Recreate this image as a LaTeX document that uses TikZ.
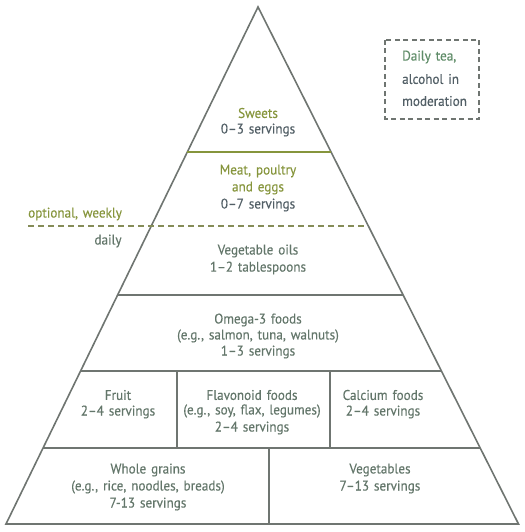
\documentclass[tikz,border=0pt]{standalone}
\usepackage{fontspec}
\setmainfont{PT Sans}[FakeBold=0.35, FakeStretch=0.94, WordSpace=1.4]
\definecolor{olive}{HTML}{86953C}
\definecolor{slate}{HTML}{525F66}
\definecolor{sage}{HTML}{63766A}
\definecolor{teagreen}{HTML}{5F8C68}
\definecolor{linegray}{HTML}{6F7571}
\definecolor{dashol}{HTML}{858C58}
\begin{document}
\begin{tikzpicture}[x=1bp,y=-1bp,
  txt/.style={inner sep=0pt, font=\fontsize{14bp}{16bp}\selectfont, text=sage},
  head/.style={txt, text=olive},
  serv/.style={txt, text=slate},
  edge/.style={draw=linegray, line width=1.6bp},
  topedge/.style={draw=olive, line width=2.4bp},
  wkline/.style={draw=dashol, line width=1.7bp, dash pattern=on 6bp off 4bp},
  teabox/.style={draw=linegray, line width=1.6bp, dash pattern=on 5bp off 3.5bp}]
\useasboundingbox (0,0) rectangle (525,532);
% pyramid corners
\coordinate (apex) at (258,7);
\coordinate (bl) at (6,524);
\coordinate (br) at (518.5,524);
% row boundaries
\coordinate (s1l) at (187.3,152); \coordinate (s1r) at (331.1,152);
\coordinate (dl) at (28,226); \coordinate (dr) at (368,226);
\coordinate (s3l) at (117.6,295); \coordinate (s3r) at (403.1,295);
\coordinate (s4l) at (80.6,371); \coordinate (s4r) at (441.4,371);
\coordinate (s5l) at (43,448); \coordinate (s5r) at (480.2,448);
% dividers
\coordinate (v1t) at (177,371); \coordinate (v1b) at (177,448);
\coordinate (v2t) at (330,371); \coordinate (v2b) at (330,448);
\coordinate (v3t) at (269,448); \coordinate (v3b) at (269,524);

\draw[edge, line join=miter] (bl) -- (apex) -- (br) -- cycle;
\draw[edge] (s3l) -- (s3r);
\draw[edge] (s4l) -- (s4r);
\draw[edge] (s5l) -- (s5r);
\draw[edge] (v1t) -- (v1b);
\draw[edge] (v2t) -- (v2b);
\draw[edge] (v3t) -- (v3b);
\draw[topedge] (s1l) -- (s1r);
\draw[wkline] (dl) -- (dr);

% Sweets
\node[head] (sw) at (258,113) {Sweets};
\node[serv] (sws) at (258,130) {0–3 servings};
% Meat
\node[head] (mt1) at (258,171) {Meat, poultry};
\node[head] (mt2) at (258,188) {and eggs};
\node[serv] (mts) at (258,205) {0–7 servings};
% weekly/daily
\node[head, anchor=west] (wk) at (28,214) {optional, weekly};
\node[txt] (dy) at (108,241) {daily};
% oils
\node[txt] (oil) at (258,251) {Vegetable oils};
\node[txt] (oils) at (258,268) {1–2 tablespoons};
% omega
\node[txt] (om1) at (258,320) {Omega-3 foods};
\node[txt] (om2) at (258,336) {(e.g., salmon, tuna, walnuts)};
\node[txt] (om3) at (258,352) {1–3 servings};
% fruit row
\node[txt] (fr1) at (118,395) {Fruit};
\node[txt] (fr2) at (118,412) {2–4 servings};
\node[txt] (fl1) at (252,395) {Flavonoid foods};
\node[txt] (fl2) at (252,411) {(e.g., soy, flax, legumes)};
\node[txt] (fl3) at (252,428) {2–4 servings};
\node[txt] (ca1) at (383,395) {Calcium foods};
\node[txt] (ca2) at (383,412) {2–4 servings};
% bottom row
\node[txt] (wg1) at (148,470) {Whole grains};
\node[txt] (wg2) at (148,487) {(e.g., rice, noodles, breads)};
\node[txt] (wg3) at (148,504) {7-13 servings};
\node[txt] (vg1) at (380,470) {Vegetables};
\node[txt] (vg2) at (380,487) {7–13 servings};
% tea box
\draw[teabox] (385,40) rectangle (479,119);
\node[txt, anchor=west, text=teagreen] (t1) at (402,57) {Daily tea,};
\node[txt, anchor=west, text=slate] (t2) at (402,79) {alcohol in};
\node[txt, anchor=west, text=slate] (t3) at (402,101) {moderation};
\end{tikzpicture}
\end{document}
